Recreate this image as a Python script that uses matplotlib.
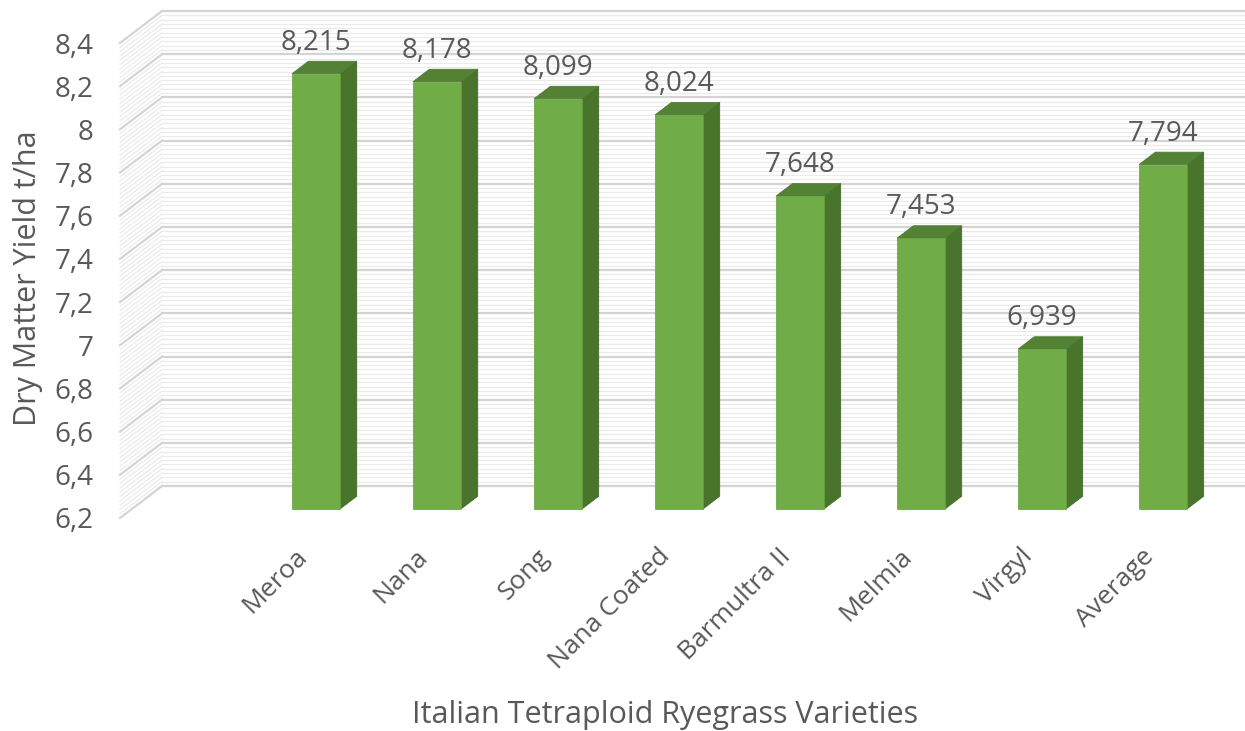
import matplotlib.pyplot as plt
from matplotlib.patches import Polygon, Rectangle
import numpy as np

plt.rcParams['font.family'] = ['Open Sans', 'DejaVu Sans']

varieties = ['Meroa', 'Nana', 'Song', 'Nana Coated', 'Barmultra II', 'Melmia', 'Virgyl', 'Average']
yields = [8.215, 8.178, 8.099, 8.024, 7.648, 7.453, 6.939, 7.794]
yticks = [6.2, 6.4, 6.6, 6.8, 7.0, 7.2, 7.4, 7.6, 7.8, 8.0, 8.2, 8.4]
ytick_labels = ['6,2', '6,4', '6,6', '6,8', '7', '7,2', '7,4', '7,6', '7,8', '8', '8,2', '8,4']

txt_color = '#595959'
c_front = '#70ad47'
c_side = '#48742c'
c_top = '#548235'

# fake 3d: depth offset of the whole floor in data units
DX, DY = 0.347, 0.148
d0, d1 = 0.29, 0.68   # bar front/back depth
w = 0.4
ymin, ymax = 6.2, 8.4
xmin, xmax = -1.521, 7.43

fig = plt.figure(figsize=(12.45, 7.31), dpi=100)
ax = fig.add_axes([120/1245, 1 - 518/731, 1083/1245, 475/731])
ax.set_xlim(xmin, xmax)
ax.set_ylim(ymin, ymax)
for s in ax.spines.values():
    s.set_visible(False)
ax.set_xticks([])
ax.set_yticks(yticks, ytick_labels)
ax.tick_params(axis='y', length=0, pad=19, labelsize=20, labelcolor=txt_color)

# walls: back wall lines + side wall diagonals
minor = np.round(np.arange(ymin, ymax + 0.001, 0.02), 3)
for v in minor:
    major = abs(round(v / 0.2) * 0.2 - v) < 1e-6
    col = '#d4d4d4' if major else '#ebebeb'
    lw = 1.6 if major else 0.9
    ax.plot([xmin + DX, xmax + DX + 1], [v + DY, v + DY], color=col, lw=lw, clip_on=False, zorder=1)
    ax.plot([xmin, xmin + DX], [v, v + DY], color=col, lw=lw, clip_on=False, zorder=1)

# bars
ddx, ddy = (d1 - d0) * DX, (d1 - d0) * DY
for i, v in enumerate(yields):
    xl = i - w/2 + d0*DX
    xr = xl + w
    yb = ymin + d0*DY
    yt = v + d0*DY
    ax.add_patch(Polygon([(xr, yb), (xr + ddx, yb + ddy), (xr + ddx, yt + ddy), (xr, yt)],
                         facecolor=c_side, edgecolor='#3f6627', lw=0.5, clip_on=False, zorder=3))
    ax.add_patch(Polygon([(xl, yt), (xr, yt), (xr + ddx, yt + ddy), (xl + ddx, yt + ddy)],
                         facecolor=c_top, edgecolor='#4a7530', lw=0.5, clip_on=False, zorder=3))
    ax.add_patch(Rectangle((xl, yb), w, yt - yb, facecolor=c_front, edgecolor='#62a03c',
                           lw=0.5, clip_on=False, zorder=4))
    ax.annotate(('%.3f' % v).replace('.', ','), xy=(i + d0*DX, yt), xytext=(0, 31),
                textcoords='offset pixels', ha='center', va='center', fontsize=20,
                color=txt_color, annotation_clip=False)
    ax.annotate(varieties[i], xy=(i + d0*DX, ymin), xytext=(-4, -26), textcoords='offset pixels',
                ha='right', va='top', rotation=45, fontsize=19, color=txt_color, annotation_clip=False)

fig.text(28/1245, 1 - 278/731, 'Dry Matter Yield t/ha', rotation=90, ha='center', va='center',
         fontsize=22, color=txt_color)
fig.text(665/1245, 1 - 715/731, 'Italian Tetraploid Ryegrass Varieties', ha='center', va='center',
         fontsize=22, color=txt_color)

fig.savefig('out.png', dpi=100)
